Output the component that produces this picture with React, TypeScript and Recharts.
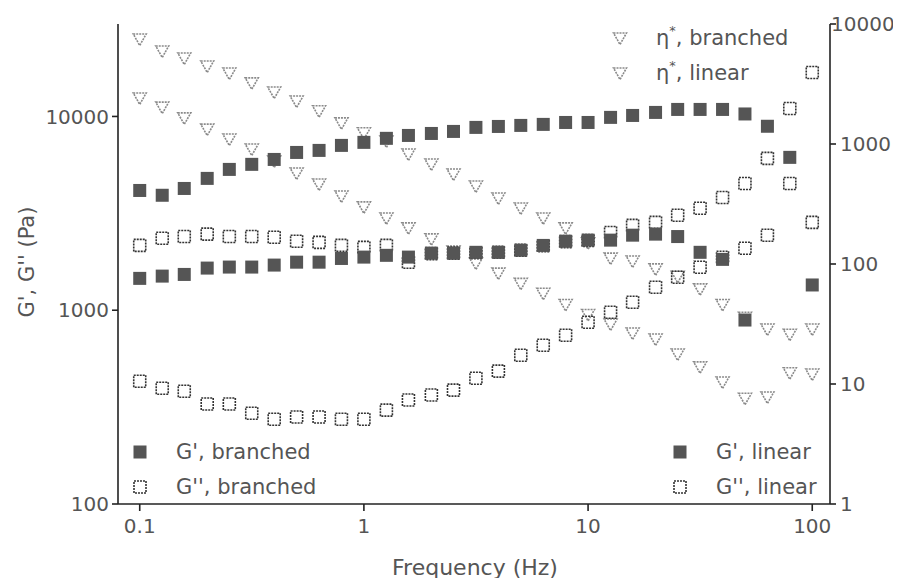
import { ScatterChart, Scatter, XAxis, YAxis } from 'recharts'

// ── Data ──────────────────────────────────────────────────────────────────────

const freq = [
  0.1, 0.126, 0.158, 0.2, 0.251, 0.316, 0.398, 0.501, 0.631, 0.794,
  1, 1.26, 1.58, 2, 2.51, 3.16, 3.98, 5.01, 6.31, 7.94,
  10, 12.6, 15.8, 20, 25.1, 31.6, 39.8, 50.1, 63.1, 79.4, 100,
]

const gPrimeBranched = [
  4150, 3920, 4250, 4790, 5330, 5660, 6000, 6520, 6680, 7090,
  7350, 7710, 7980, 8170, 8370, 8780, 8880, 8990, 9100, 9310,
  9310, 9890, 10120, 10490, 10870, 10870, 10870, 10300, 8900, 6150, null,
]
const gDoubleBranched = [
  430, 396, 382, 328, 328, 294, 274, 281, 281, 274,
  274, 305, 344, 365, 387, 446, 485, 586, 660, 743,
  867, 977, 1100, 1315, 1479, 1667, 1876, 2088, 2436, 4510, 2840,
]
const gPrimeLinear = [
  1460, 1500, 1530, 1650, 1670, 1670, 1710, 1770, 1770, 1850,
  1880, 1920, 1880, 1970, 1970, 1990, 1990, 2040, 2160, 2270,
  2300, 2300, 2440, 2470, 2400, 1990, 1830, 890, null, null, 1350,
]
const gDoubleLinear = [
  2160, 2350, 2400, 2470, 2400, 2400, 2380, 2270, 2240, 2160,
  2110, 2160, 1770, 1960, 1970, 1980, 1990, 2040, 2150, 2260,
  2290, 2520, 2740, 2840, 3090, 3360, 3820, 4510, 6080, 10990, 16870,
]
const etaBranched = [
  7500, 5960, 5210, 4470, 3900, 3230, 2710, 2280, 1890, 1500,
  1240, 1060, 826, 681, 562, 447, 355, 293, 242, 200,
  150, 112, 106, 91, 79, 62, 46, 36, 28.7, 26, 28.7,
]
const etaLinear = [
  2420, 2030, 1650, 1330, 1100, 908, 722, 573, 464, 369,
  299, 242, 200, 162, 128, 102, 84, 69, 57, 46,
  38, 31.6, 26.6, 23.7, 17.8, 13.9, 10.4, 7.6, 7.8, 12.4, 12.1,
]

const xTicks = [0.1, 1, 10, 100]
const leftTicks = [100, 1000, 10000]
const rightTicks = [1, 10, 100, 1000, 10000]

const pts = (vals: (number | null)[]) =>
  freq.map((f, i) => ({ f, v: vals[i] })).filter(d => d.v != null)

// ── Markers ───────────────────────────────────────────────────────────────────

const FILL = '#555'
const OPEN = '#333'
const TRI = '#8a8a8a'
const FONT = 'DejaVu Sans'
const TEXT = '#555'

// eslint-disable-next-line @typescript-eslint/no-explicit-any
function FilledSq({ cx, cy }: any) {
  return <rect x={cx - 6.5} y={cy - 6.5} width={13} height={13} fill={FILL} />
}
// eslint-disable-next-line @typescript-eslint/no-explicit-any
function OpenSq({ cx, cy }: any) {
  return (
    <rect x={cx - 6} y={cy - 6} width={12} height={12} fill="none"
      stroke={OPEN} strokeWidth={1.6} strokeDasharray="2 1" />
  )
}
// eslint-disable-next-line @typescript-eslint/no-explicit-any
function Tri({ cx, cy }: any) {
  return (
    <polygon points={`${cx - 6.5},${cy - 5} ${cx + 6.5},${cy - 5} ${cx},${cy + 6.5}`}
      fill="none" stroke={TRI} strokeWidth={1.6} strokeDasharray="2 1" />
  )
}

const TICK = { fill: TEXT, fontSize: 20, fontFamily: FONT }
const AXIS = { stroke: '#222', strokeWidth: 1.6 }

const fmt = (v: number) => String(v)

// right axis labels; the top one is pulled left so it stays inside the frame
// eslint-disable-next-line @typescript-eslint/no-explicit-any
function RightTick({ x, y, payload }: any) {
  const dx = payload.value === 10000 ? -9 : 0
  return (
    <text x={x + dx} y={y} dy="0.355em" textAnchor="start" fill={TEXT}
      fontSize={20} fontFamily={FONT}>{payload.value}</text>
  )
}

function LegendItem({ x, y, kind, children }: { x: number; y: number; kind: string; children: React.ReactNode }) {
  return (
    <g>
      {kind === 'filled' && <FilledSq cx={x} cy={y} />}
      {kind === 'open' && <OpenSq cx={x} cy={y} />}
      {kind === 'tri' && <Tri cx={x} cy={y} />}
      <text x={x + 36} y={y} dominantBaseline="central" fill={TEXT}
        fontSize={21} fontFamily={FONT}>{children}</text>
    </g>
  )
}

export default function App() {
  return (
    <div style={{ position: 'relative', width: 893, height: 570 }}>
      <ScatterChart width={893} height={570} margin={{ top: 16, right: 16, bottom: 24, left: 30 }}>
        <XAxis type="number" dataKey="f" scale="log" domain={[0.08, 120]} ticks={xTicks}
          allowDataOverflow height={50} tick={TICK} tickFormatter={fmt}
          axisLine={AXIS} tickLine={AXIS} tickSize={7} tickMargin={8} />
        <YAxis yAxisId="left" type="number" dataKey="v" scale="log" domain={[100, 30000]}
          ticks={leftTicks} allowDataOverflow width={80} tick={TICK} tickFormatter={fmt}
          axisLine={AXIS} tickLine={AXIS} tickSize={6} tickMargin={3} />
        <YAxis yAxisId="right" orientation="right" type="number" dataKey="v" scale="log"
          domain={[1, 10000]} ticks={rightTicks} allowDataOverflow width={55} tick={<RightTick />}
          axisLine={AXIS} tickLine={AXIS} tickSize={6} tickMargin={4} />

        <Scatter name="η*, branched" yAxisId="right" data={pts(etaBranched)} shape={Tri} isAnimationActive={false} />
        <Scatter name="η*, linear" yAxisId="right" data={pts(etaLinear)} shape={Tri} isAnimationActive={false} />
        <Scatter name="G'', branched" yAxisId="left" data={pts(gDoubleBranched)} shape={OpenSq} isAnimationActive={false} />
        <Scatter name="G'', linear" yAxisId="left" data={pts(gDoubleLinear)} shape={OpenSq} isAnimationActive={false} />
        <Scatter name="G', branched" yAxisId="left" data={pts(gPrimeBranched)} shape={FilledSq} isAnimationActive={false} />
        <Scatter name="G', linear" yAxisId="left" data={pts(gPrimeLinear)} shape={FilledSq} isAnimationActive={false} />
      </ScatterChart>

      {/* legends and axis titles */}
      <svg width={893} height={570} style={{ position: 'absolute', left: 0, top: 0, pointerEvents: 'none' }}>
        <LegendItem x={612} y={30} kind="tri">
          η<tspan dy={-8} fontSize={13}>*</tspan><tspan dy={8}>, branched</tspan>
        </LegendItem>
        <LegendItem x={612} y={65} kind="tri">
          η<tspan dy={-8} fontSize={13}>*</tspan><tspan dy={8}>, linear</tspan>
        </LegendItem>
        <LegendItem x={132} y={444} kind="filled">G', branched</LegendItem>
        <LegendItem x={132} y={479} kind="open">G'', branched</LegendItem>
        <LegendItem x={672} y={444} kind="filled">G', linear</LegendItem>
        <LegendItem x={672} y={479} kind="open">G'', linear</LegendItem>

        <text x={467} y={559} textAnchor="middle" dominantBaseline="central" fill={TEXT}
          fontSize={22} fontFamily={FONT}>Frequency (Hz)</text>
        <text x={19} y={254} textAnchor="middle" dominantBaseline="central" fill={TEXT}
          fontSize={21} fontFamily={FONT} transform="rotate(-90 19 254)">G', G'' (Pa)</text>
      </svg>
    </div>
  )
}
